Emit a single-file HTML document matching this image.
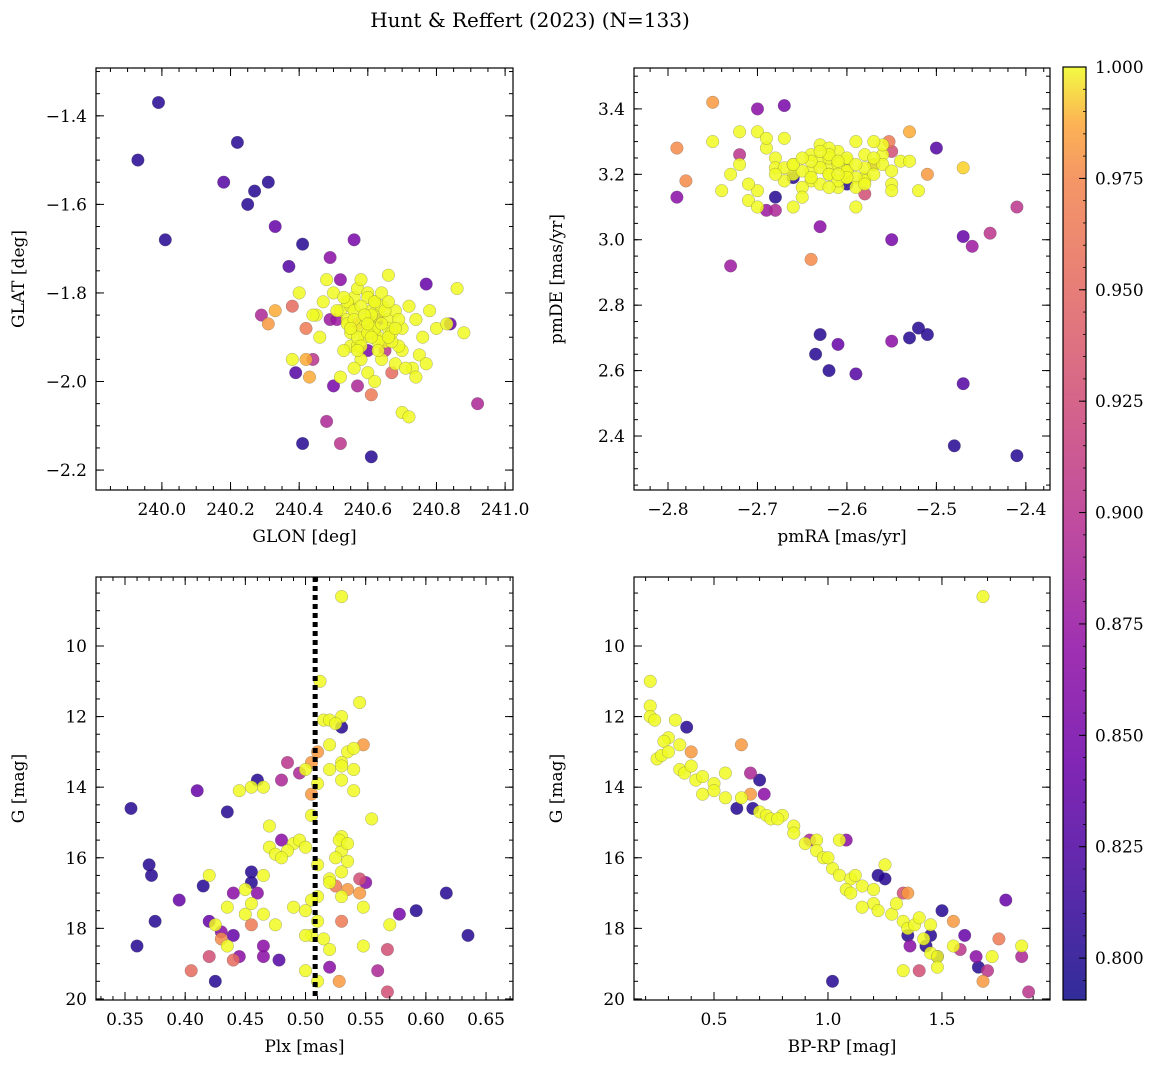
<!DOCTYPE html>
<html><head><meta charset="utf-8">
<style>
html,body{margin:0;padding:0;background:#fff;}
svg{display:block;font-family:"DejaVu Serif","Liberation Serif",serif;}
</style></head>
<body>
<svg id="fig" width="1160" height="1067" viewBox="0 0 1160 1067" xmlns="http://www.w3.org/2000/svg">
<defs>
<linearGradient id="cbgrad" x1="0" y1="1" x2="0" y2="0">
<stop offset="0" stop-color="#0d0887"/><stop offset="0.13" stop-color="#41049d"/><stop offset="0.25" stop-color="#6a00a8"/><stop offset="0.38" stop-color="#8f0da4"/><stop offset="0.5" stop-color="#b12a90"/><stop offset="0.63" stop-color="#cc4778"/><stop offset="0.75" stop-color="#e16462"/><stop offset="0.88" stop-color="#f2844b"/><stop offset="0.94" stop-color="#fca636"/><stop offset="1" stop-color="#f0f921"/>
</linearGradient>
</defs>
<text x="530" y="27" font-size="20" text-anchor="middle">Hunt &amp; Reffert (2023) (N=133)</text>
</svg>
<script>
// ---- Panel 1: GLON vs GLAT ----
const p1Glon=[239.93,239.99,240.01,240.22,240.18,240.25,240.27,240.31,240.33,240.37,240.41,240.39,240.41,240.61,240.49,240.56,240.77,240.84,240.92,240.52,240.48,240.29,240.31,240.33,240.38,240.42,240.42,240.43,240.44,240.50,240.57,240.61,240.67,240.65,240.57,240.49,240.51,240.52,240.60,240.63,
240.45,240.47,240.50,240.52,240.54,240.55,240.56,240.57,240.58,240.60,240.61,240.62,240.63,240.64,240.66,240.68,240.70,240.72,240.74,240.76,240.78,240.80,240.83,240.86,240.88,240.55,240.58,240.62,240.65,240.68,240.70,240.73,240.75,240.60,240.63,240.66,240.69,240.53,240.56,240.59,240.48,240.46,240.52,240.61,240.64,240.67,240.71,240.74,240.77,240.38,240.40,240.44,240.54,240.57,240.62,240.58,240.70,240.72,240.66,240.60,
240.54,240.56,240.58,240.59,240.61,240.62,240.64,240.65,240.67,240.69,240.55,240.57,240.60,240.63,240.66,240.68,240.53,240.56,240.59,240.62,240.51,240.58,240.64,240.60,240.57,240.63,240.55,240.61,240.66];
const p1Glat=[-1.50,-1.37,-1.68,-1.46,-1.55,-1.60,-1.57,-1.55,-1.65,-1.74,-1.69,-1.98,-2.14,-2.17,-1.72,-1.68,-1.78,-1.87,-2.05,-2.14,-2.09,-1.85,-1.87,-1.84,-1.83,-1.88,-1.95,-1.99,-1.95,-2.01,-2.01,-2.03,-1.98,-1.93,-1.87,-1.86,-1.86,-1.77,-1.93,-1.86,
-1.85,-1.82,-1.80,-1.84,-1.86,-1.83,-1.81,-1.79,-1.88,-1.80,-1.84,-1.82,-1.85,-1.83,-1.86,-1.84,-1.88,-1.83,-1.86,-1.90,-1.84,-1.88,-1.87,-1.79,-1.89,-1.92,-1.95,-1.89,-1.91,-1.96,-1.93,-1.97,-1.94,-1.98,-1.90,-1.88,-1.92,-1.93,-1.97,-1.90,-1.77,-1.90,-1.99,-1.87,-1.95,-1.91,-1.97,-1.99,-1.96,-1.95,-1.80,-1.85,-1.87,-1.92,-2.00,-1.77,-2.07,-2.08,-1.76,-1.81,
-1.82,-1.84,-1.83,-1.86,-1.85,-1.88,-1.87,-1.84,-1.89,-1.86,-1.89,-1.90,-1.89,-1.91,-1.90,-1.88,-1.81,-1.86,-1.85,-1.82,-1.84,-1.92,-1.80,-1.87,-1.93,-1.93,-1.88,-1.90,-1.82];
const p1Prob=[0.80,0.80,0.80,0.80,0.82,0.80,0.80,0.80,0.83,0.82,0.80,0.82,0.80,0.80,0.85,0.84,0.83,0.83,0.87,0.88,0.87,0.87,0.95,0.96,0.92,0.93,0.96,0.96,0.88,0.84,0.87,0.93,0.92,0.88,0.93,0.86,0.86,0.85,0.84,0.82,
1,1,1,1,1,1,1,1,1,1,1,1,1,1,1,1,1,1,1,1,1,1,1,1,1,1,1,1,1,1,1,1,1,1,1,1,1,1,1,1,1,1,1,1,1,1,1,1,1,1,1,1,1,1,1,1,1,1,1,1,
1,1,1,1,1,1,1,1,1,1,1,1,1,1,1,1,1,1,1,1,1,1,1,1,1,1,1,1,1];
// ---- Panel 2: pmRA vs pmDE ----
const p2Pmra=[-2.75,-2.79,-2.78,-2.79,-2.72,-2.70,-2.67,-2.69,-2.68,-2.73,-2.64,-2.63,-2.55,-2.50,-2.47,-2.46,-2.44,-2.41,-2.55,-2.553,-2.53,-2.51,-2.58,-2.63,-2.635,-2.61,-2.62,-2.59,-2.55,-2.53,-2.52,-2.51,-2.47,-2.48,-2.41,-2.68,-2.60,-2.66,-2.57,-2.47,
-2.75,-2.72,-2.70,-2.68,-2.66,-2.64,-2.62,-2.60,-2.58,-2.56,-2.54,-2.73,-2.71,-2.69,-2.67,-2.65,-2.63,-2.61,-2.59,-2.57,-2.55,-2.74,-2.70,-2.66,-2.62,-2.58,-2.56,-2.64,-2.60,-2.68,-2.72,-2.65,-2.61,-2.57,-2.69,-2.63,-2.59,-2.55,-2.67,-2.62,-2.60,-2.64,-2.71,-2.52,-2.53,-2.58,-2.66,-2.70,-2.62,-2.60,
-2.63,-2.62,-2.61,-2.60,-2.59,-2.64,-2.65,-2.61,-2.58,-2.57,-2.63,-2.60,-2.56,-2.62,-2.66,-2.59,-2.61,-2.64,-2.58,-2.55,-2.67,-2.62,-2.60,-2.57,-2.65,-2.68,-2.63,-2.59,-2.61];
const p2Pmde=[3.42,3.28,3.18,3.13,3.26,3.40,3.41,3.09,3.09,2.92,2.94,3.04,3.00,3.28,3.01,2.98,3.02,3.10,3.27,3.30,3.33,3.20,3.14,2.71,2.65,2.68,2.60,2.59,2.69,2.70,2.73,2.71,2.56,2.37,2.34,3.13,3.17,3.19,3.23,3.22,
3.30,3.23,3.15,3.25,3.20,3.18,3.22,3.24,3.19,3.26,3.24,3.20,3.12,3.28,3.31,3.16,3.29,3.27,3.30,3.23,3.17,3.15,3.33,3.10,3.20,3.18,3.29,3.26,3.21,3.22,3.33,3.13,3.16,3.30,3.31,3.24,3.10,3.15,3.22,3.28,3.19,3.21,3.17,3.15,3.24,3.26,3.23,3.10,3.25,3.21,
3.22,3.20,3.23,3.21,3.19,3.24,3.21,3.18,3.22,3.20,3.17,3.25,3.23,3.26,3.23,3.16,3.24,3.19,3.17,3.21,3.18,3.16,3.19,3.25,3.25,3.20,3.27,3.23,3.20];
const p2Prob=[0.95,0.94,0.94,0.85,0.88,0.85,0.84,0.86,0.87,0.86,0.94,0.85,0.84,0.82,0.83,0.86,0.88,0.88,0.90,0.93,0.96,0.95,0.90,0.80,0.80,0.83,0.80,0.82,0.85,0.80,0.80,0.80,0.82,0.80,0.80,0.80,0.80,0.80,0.85,0.98,
1,1,1,1,1,1,1,1,1,1,1,1,1,1,1,1,1,1,1,1,1,1,1,1,1,1,1,1,1,1,1,1,1,1,1,1,1,1,1,1,1,1,1,1,1,1,1,1,1,1,
1,1,1,1,1,1,1,1,1,1,1,1,1,1,1,1,1,1,1,1,1,1,1,1,1,1,1,1,1];
// ---- Panel 3: Plx vs G ----
const p3Plx=[0.53,0.512,0.515,0.52,0.53,0.545,0.525,0.53,0.52,0.535,0.54,0.548,0.53,0.51,0.505,0.5,0.52,0.53,0.54,0.53,0.54,0.51,0.505,0.495,0.48,0.485,0.465,0.455,0.445,0.46,0.435,0.41,0.355,0.47,0.49,0.48,0.485,0.47,0.475,0.495,0.53,0.53,0.535,0.525,0.528,0.535,0.555,0.51,0.52,0.53,0.545,0.55,0.535,0.525,0.545,0.52,0.53,0.548,0.51,0.505,0.5,0.51,0.505,0.5,0.515,0.52,0.548,0.53,0.57,0.578,0.592,0.617,0.635,0.568,0.52,0.51,0.5,0.528,0.56,0.568,0.49,0.475,0.465,0.46,0.455,0.45,0.455,0.44,0.435,0.45,0.465,0.455,0.455,0.42,0.415,0.37,0.372,0.375,0.395,0.36,0.42,0.425,0.43,0.43,0.435,0.44,0.42,0.445,0.44,0.405,0.425,0.465,0.465,0.478,0.48,0.5,0.505];
const p3G=[8.6,11,12.1,12.1,12,11.6,12.2,12.3,12.8,13,12.9,12.8,13.3,13,13.3,13.5,13.5,13.4,13.5,13.8,14.1,13.9,14.2,13.6,13.8,13.3,14.0,14.0,14.1,13.8,14.7,14.1,14.6,15.1,15.6,15.5,15.8,15.7,15.9,15.5,15.4,15.8,16.1,16.0,15.5,15.6,14.9,16.2,16.6,16.4,16.6,16.7,16.9,16.8,17.0,16.7,17.1,17.4,17.1,17.2,17.5,17.8,18.2,18.2,18.3,18.6,18.5,17.8,17.9,17.6,17.5,17.0,18.2,18.6,19.1,19.5,19.2,19.5,19.2,19.8,17.4,17.9,17.6,17.0,17.9,17.6,17.3,17.0,17.4,16.9,16.5,16.4,16.7,16.5,16.8,16.2,16.5,17.8,17.2,18.5,17.8,17.9,18.1,18.3,18.5,18.2,18.8,18.8,18.9,19.2,19.5,18.8,18.5,18.9,16.0,15.7,14.8];
const p3Prob=[1,1,1,1,1,1,1,0.8,1,1,1,0.95,1,0.95,0.95,1,1,1,1,1,1,1,0.95,0.87,0.87,0.88,1,1,1,0.8,0.8,0.83,0.8,1,1,0.85,1,1,1,1,1,1,1,1,1,1,1,1,1,1,0.9,0.85,0.95,0.93,0.95,1,1,1,1,1,1,1,1,1,1,1,1,0.93,1,0.84,0.8,0.8,0.8,0.9,0.85,1,1,0.95,0.87,0.9,1,1,1,0.85,0.93,1,1,0.85,1,1,1,0.8,0.8,1,0.8,0.8,0.8,0.8,0.83,0.8,0.83,1,0.85,0.94,1,0.83,0.9,0.85,0.92,0.92,0.8,0.85,0.85,0.82,1,1,1];
const plxLine=0.508;
// ---- Panel 4: BP-RP vs G ----
const p4Bprp=[1.68,0.22,0.22,0.22,0.24,0.3,0.28,0.33,0.38,0.25,0.27,0.3,0.35,0.4,0.35,0.37,0.4,0.42,0.45,0.5,0.45,0.5,0.55,0.55,0.62,0.66,0.7,0.6,0.67,0.66,0.72,0.7,0.73,0.75,0.8,0.85,0.85,0.9,0.92,0.95,0.95,0.98,1.02,1.0,1.05,1.08,1.05,1.1,1.08,1.12,1.15,1.2,1.2,1.22,1.25,1.22,1.25,1.28,1.3,1.33,1.35,1.33,1.35,1.35,1.36,1.38,1.4,1.42,1.45,1.43,1.45,1.48,1.48,1.5,1.45,1.48,1.55,1.55,1.58,1.6,1.65,1.66,1.68,1.7,1.72,1.75,1.78,1.85,1.85,1.88,1.33,1.4,1.02,1.1,1.15,0.78,0.62];
const p4G=[8.6,11,11.7,12,12.1,12.6,12.7,12.1,12.3,13.2,13.1,13.0,12.8,13.0,13.5,13.6,13.4,13.8,13.7,13.9,14.2,14.1,14.3,13.6,12.8,13.6,13.8,14.6,14.6,14.2,14.2,14.7,14.8,14.9,14.8,15.1,15.3,15.6,15.5,15.5,15.8,16.0,16.3,16.0,16.5,15.5,15.5,16.6,16.9,16.5,16.8,16.9,17.3,17.5,16.2,16.5,16.6,17.6,17.3,17.0,17.0,17.8,18.0,18.2,18.5,17.9,17.7,18.3,17.9,18.5,18.7,18.8,19.1,17.5,18.2,18.8,18.5,17.8,18.6,18.2,18.8,19.1,19.5,19.2,18.8,18.3,17.2,18.5,18.8,19.8,19.2,19.2,19.5,17.0,17.4,14.9,14.3];
const p4Prob=[1,1,1,1,1,1,1,1,0.8,1,1,1,1,0.95,1,1,1,1,1,1,1,1,1,1,0.95,0.87,0.8,0.8,0.8,0.95,0.85,1,1,1,1,1,1,1,0.87,1,1,1,1,1,1,0.85,1,1,1,1,1,1,1,1,1,0.8,0.8,1,1,0.9,0.95,1,1,0.8,0.85,1,1,1,1,0.8,1,1,1,0.8,0.8,0.8,1,0.95,0.88,0.83,0.85,0.8,0.95,0.88,1,0.93,0.83,1,0.87,0.88,1,0.9,0.8,1,1,1,1];
// ---- Colorbar ----
const cbTicks=[0.800,0.825,0.850,0.875,0.900,0.925,0.950,0.975,1.000];

const NS="http://www.w3.org/2000/svg";
const svg=document.getElementById('fig');
const CMIN=0.7906,CMAX=1.0;
const plasma=[[13,8,135],[65,4,157],[106,0,168],[143,13,164],[177,42,144],[204,71,120],[225,100,98],[242,132,75],[252,166,54],[252,206,37],[240,249,33]];
function cmap(v){let t=Math.max(0,Math.min(1,(v-CMIN)/(CMAX-CMIN)))*(plasma.length-1);let i=Math.min(plasma.length-2,Math.floor(t)),f=t-i;const a=plasma[i],b=plasma[i+1];return 'rgb('+a.map((x,k)=>Math.round(x+(b[k]-x)*f)).join(',')+')';}
function mk(tag,attrs,parent){const e=document.createElementNS(NS,tag);for(const k in attrs)e.setAttribute(k,attrs[k]);(parent||svg).appendChild(e);return e;}
function fmt(v,d){let s=v.toFixed(d);if(v<0)s='\u2212'+s.slice(1);return s;}

function panel(name,box,xr,yr,xMaj,xMin,yMaj,yMin,xd,yd,xlab,ylab,xs,ys,cs,invertY){
  const g=mk('g',{});
  
  
  const [L,T,R,B]=box;
  const X=v=>L+(v-xr[0])/(xr[1]-xr[0])*(R-L);
  const Y=v=>invertY? T+(v-yr[0])/(yr[1]-yr[0])*(B-T) : B-(v-yr[0])/(yr[1]-yr[0])*(B-T);
  const pts=mk('g',{},g);
  
  
  const order=cs.map((c,i)=>i).sort((a,b)=>cs[a]-cs[b]);
  order.forEach(i=>{
    const c=mk('circle',{cx:X(xs[i]).toFixed(1),cy:Y(ys[i]).toFixed(1),r:6.3,fill:cmap(cs[i]),'fill-opacity':0.85,stroke:'#555','stroke-width':0.4,'stroke-opacity':0.6},pts);
    
    
  });
  const fr=mk('rect',{x:L,y:T,width:R-L,height:B-T,fill:'none',stroke:'#000','stroke-width':1.2},g);
  
  
  function ticks(lo,hi,step,len,major,d,isX){
    const s0=Math.ceil(lo/step-1e-9);
    for(let k=s0;k*step<=hi+1e-9;k++){
      const v=k*step;
      if(isX){const x=X(v);
        mk('line',{x1:x,y1:B,x2:x,y2:B-len,stroke:'#000','stroke-width':1},g);
        mk('line',{x1:x,y1:T,x2:x,y2:T+len,stroke:'#000','stroke-width':1},g);
        if(major){const t=mk('text',{x:x,y:B+25,'font-size':17,'text-anchor':'middle'},g);t.textContent=fmt(v,d);
          }
      } else {const y=Y(v);
        mk('line',{x1:L,y1:y,x2:L+len,y2:y,stroke:'#000','stroke-width':1},g);
        mk('line',{x1:R,y1:y,x2:R-len,y2:y,stroke:'#000','stroke-width':1},g);
        if(major){const t=mk('text',{x:L-9,y:y+6,'font-size':17,'text-anchor':'end'},g);t.textContent=fmt(v,d);
          }
      }
    }
  }
  const ylo=Math.min(...yr),yhi=Math.max(...yr);
  ticks(xr[0],xr[1],xMin,4,false,0,true);ticks(xr[0],xr[1],xMaj,8,true,xd,true);
  ticks(ylo,yhi,yMin,4,false,0,false);ticks(ylo,yhi,yMaj,8,true,yd,false);
  const xl=mk('text',{x:(L+R)/2,y:B+52,'font-size':17,'text-anchor':'middle'},g);xl.textContent=xlab;
  
  const yl=mk('text',{x:0,y:0,'font-size':17,'text-anchor':'middle',transform:`translate(${L-72},${(T+B)/2}) rotate(-90)`},g);yl.textContent=ylab;
  
  return {X,Y,g};
}

panel('glon-glat-panel',[96,68,513,490],[239.808,241.023],[-2.245,-1.292],0.2,0.05,0.2,0.05,1,1,'GLON [deg]','GLAT [deg]',p1Glon,p1Glat,p1Prob,false);
panel('pm-panel',[634,68,1050,490],[-2.838,-2.373],[2.235,3.525],0.1,0.02,0.2,0.05,1,1,'pmRA [mas/yr]','pmDE [mas/yr]',p2Pmra,p2Pmde,p2Prob,false);
const p3=panel('plx-g-panel',[96,577,513,1000],[0.3259,0.6724],[8.045,20.03],0.05,0.01,2,0.5,2,0,'Plx [mas]','G [mag]',p3Plx,p3G,p3Prob,true);
const ln=mk('line',{x1:p3.X(plxLine),y1:577,x2:p3.X(plxLine),y2:1000,stroke:'#000','stroke-width':5,'stroke-dasharray':'5,4'},p3.g);


panel('cmd-panel',[634,577,1050,1000],[0.149,1.974],[8.045,20.03],0.5,0.1,2,0.5,1,0,'BP-RP [mag]','G [mag]',p4Bprp,p4G,p4Prob,true);

// colorbar
const cb=mk('g',{});


const cL=1063,cR=1086,cT=67,cB=1000;
mk('rect',{x:cL,y:cT,width:cR-cL,height:cB-cT,fill:'url(#cbgrad)','fill-opacity':0.85},cb);
mk('rect',{x:cL,y:cT,width:cR-cL,height:cB-cT,fill:'none',stroke:'#000','stroke-width':1.2},cb);
const CY=v=>cB-(v-CMIN)/(CMAX-CMIN)*(cB-cT);
cbTicks.forEach(v=>{const y=CY(v);
  mk('line',{x1:cR,y1:y,x2:cR-7,y2:y,stroke:'#000','stroke-width':1},cb);
  const t=mk('text',{x:cR+9,y:y+6,'font-size':17},cb);t.textContent=v.toFixed(3);
  
});
for(let v=0.795;v<1.0;v+=0.005){const y=CY(v);mk('line',{x1:cR,y1:y,x2:cR-3,y2:y,stroke:'#000','stroke-width':0.8},cb);}
</script>
</body></html>
